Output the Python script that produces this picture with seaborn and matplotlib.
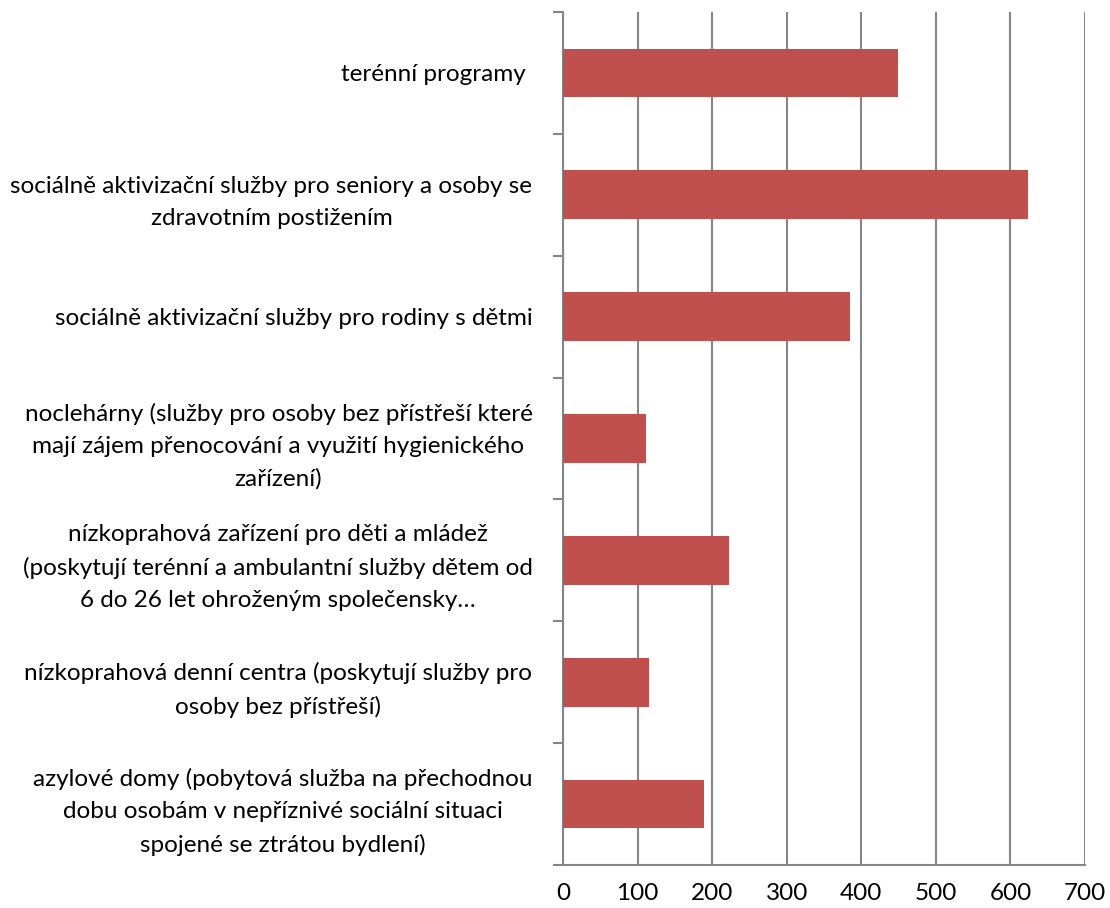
import numpy as np
import pandas as pd
import seaborn as sns
import matplotlib.pyplot as plt
from matplotlib.ticker import FixedLocator

# Data
categories = [
    "terénní programy ",
    "sociálně aktivizační služby pro seniory a osoby se\nzdravotním postižením",
    "sociálně aktivizační služby pro rodiny s dětmi",
    "noclehárny (služby pro osoby bez přístřeší které\nmají zájem přenocování a využití hygienického\nzařízení)",
    "nízkoprahová zařízení pro děti a mládež\n(poskytují terénní a ambulantní služby dětem od\n6 do 26 let ohroženým společensky…",
    "nízkoprahová denní centra (poskytují služby pro\nosoby bez přístřeší)",
    "azylové domy (pobytová služba na přechodnou\ndobu osobám v nepříznivé sociální situaci\nspojené se ztrátou bydlení)",
]
values = [449, 623, 385, 111, 222, 115, 189]
x_ticks = [0, 100, 200, 300, 400, 500, 600, 700]

df = pd.DataFrame({"kategorie": categories, "pocet": values})

sns.set_style("white")
plt.rcParams['font.family'] = ['Lato', 'DejaVu Sans']
plt.rcParams['text.color'] = 'black'
plt.rcParams['xtick.color'] = 'black'
plt.rcParams['ytick.color'] = 'black'

fig = plt.figure(figsize=(11.1, 9.08), dpi=100)
ax = fig.add_axes([0.5072, 0.0474, 0.4703, 0.9394])

sns.barplot(data=df, x="pocet", y="kategorie", orient="h", color="#C0504D",
            saturation=1, width=0.4, linewidth=0, ax=ax, zorder=3)

ax.set_xlim(0, 700)
ax.set_ylim(len(categories) - 0.5, -0.5)
ax.set_xticks(x_ticks)
ax.set_xticklabels([str(t) for t in x_ticks], fontsize=17.5)
ax.set_xlabel("")
ax.set_ylabel("")

grid_c = "#868686"
ax.xaxis.grid(True, color=grid_c, linewidth=1.5, zorder=0)
ax.set_axisbelow(True)

for side in ["top", "right"]:
    ax.spines[side].set_visible(False)
for side in ["left", "bottom"]:
    ax.spines[side].set_color(grid_c)
    ax.spines[side].set_linewidth(1.5)

ax.tick_params(axis="x", which="major", length=6, width=1.5, color=grid_c,
               labelcolor="black", pad=7)
ax.tick_params(axis="y", which="major", length=0, pad=22, labelcolor="black")
ax.yaxis.set_minor_locator(FixedLocator(np.arange(-0.5, len(categories), 1.0)))
ax.tick_params(axis="y", which="minor", length=7, width=1.5, color=grid_c, left=True)

for lbl in ax.get_yticklabels():
    lbl.set_fontsize(17.5)
    lbl.set_multialignment("center")
    lbl.set_linespacing(1.65)

plt.savefig("out.png", dpi=100)
